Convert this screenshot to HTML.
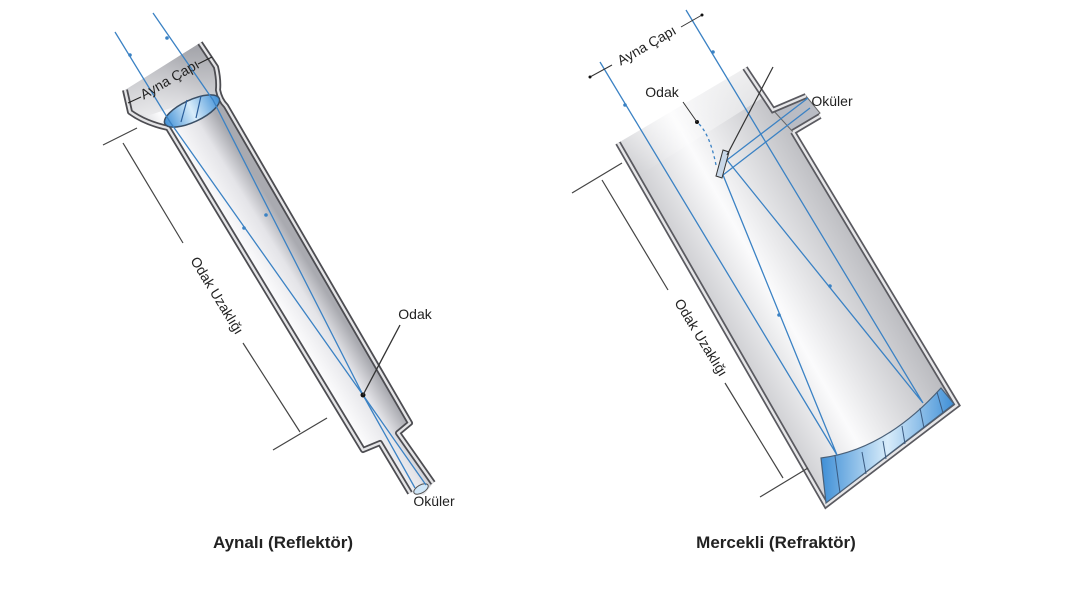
<!DOCTYPE html>
<html><head><meta charset="utf-8"><style>
body{margin:0;background:#fff;width:1066px;height:600px;overflow:hidden}
svg{display:block}
text{font-family:"Liberation Sans",sans-serif;fill:#222}
</style></head><body>
<svg width="1066" height="600" viewBox="0 0 1066 600" xmlns="http://www.w3.org/2000/svg">
<defs>
<linearGradient id="gl" gradientUnits="userSpaceOnUse" x1="160" y1="175" x2="228" y2="133">
<stop offset="0" stop-color="#c6c7cc"/><stop offset="0.4" stop-color="#fbfbfc"/><stop offset="0.75" stop-color="#e4e4e8"/><stop offset="1" stop-color="#a9aab0"/></linearGradient>
<linearGradient id="ghead" x1="0" y1="0" x2="0" y2="1"><stop offset="0" stop-color="#9fa0a6"/><stop offset="1" stop-color="#e8e8ea"/></linearGradient>
<linearGradient id="gr" gradientUnits="userSpaceOnUse" x1="640" y1="300" x2="870" y2="170">
<stop offset="0" stop-color="#a3a4aa"/><stop offset="0.45" stop-color="#fbfbfc"/><stop offset="1" stop-color="#a0a1a7"/></linearGradient>
<linearGradient id="gtop" x1="0" y1="0" x2="0" y2="1"><stop offset="0" stop-color="#fff" stop-opacity="1"/><stop offset="1" stop-color="#fff" stop-opacity="0"/></linearGradient>
<linearGradient id="gb" x1="0" y1="0" x2="1" y2="0"><stop offset="0" stop-color="#3f8fd6"/><stop offset="0.5" stop-color="#d8ecfa"/><stop offset="1" stop-color="#3f8fd6"/></linearGradient>
</defs>

<!-- LEFT TELESCOPE -->
<polygon points="125,90 200,43 217,67 218,90 226,105 410,423 398,433 433,483 424,495 410,493 380,443 363,450 170,130 130,113" fill="url(#gl)"/>
<polygon points="125,90 200,43 217,67 218,90 214,100 180,105 150,115 130,113" fill="url(#ghead)" opacity="0.85"/>
<g fill="none" stroke-linejoin="round">
<path d="M200,43 L216,67 Q219,80 218,90 Q220,100 226,106 L410,423 L398,433 L433,483" stroke="#4d4d52" stroke-width="6"/>
<path d="M200,43 L216,67 Q219,80 218,90 Q220,100 226,106 L410,423 L398,433 L433,483" stroke="#e4e4e6" stroke-width="2.4"/>
<path d="M125,90 L130,112 Q145,123 168,128 L363,450 L380,443 L410,493" stroke="#4d4d52" stroke-width="6"/>
<path d="M125,90 L130,112 Q145,123 168,128 L363,450 L380,443 L410,493" stroke="#e4e4e6" stroke-width="2.4"/>
</g>
<ellipse cx="192" cy="111" rx="30" ry="11" transform="rotate(-25 192 111)" fill="url(#gb)" stroke="#3a4f66" stroke-width="1.5"/>
<line x1="181" y1="122" x2="187" y2="100" stroke="#2a5d99" stroke-width="1.2"/>
<line x1="196" y1="118" x2="201" y2="96" stroke="#2a5d99" stroke-width="1.2"/>
<ellipse cx="421" cy="489" rx="8" ry="4" transform="rotate(-30 421 489)" fill="#cfe6f8" stroke="#555" stroke-width="1"/>
<g stroke="#3b82c4" stroke-width="1.3" fill="none">
<polyline points="115,32 170,122 363,395 415,488"/>
<polyline points="153,13 213,100 363,395 426,485"/>
</g>
<g fill="#3b82c4"><circle cx="130" cy="55" r="1.8"/><circle cx="167" cy="38" r="1.8"/><circle cx="244" cy="228" r="1.8"/><circle cx="266" cy="215" r="1.8"/></g>
<circle cx="363" cy="395" r="2.5" fill="#111"/>
<line x1="400" y1="325" x2="363" y2="395" stroke="#333" stroke-width="1.3"/>
<!-- dimension ayna -->
<g stroke="#222" stroke-width="1"><line x1="128" y1="103" x2="141" y2="97"/><line x1="198" y1="64" x2="212" y2="57"/></g>
<text x="170" y="84" font-size="14" text-anchor="middle" transform="rotate(-30 170 80)">Ayna Çapı</text>
<!-- odak uzakligi left -->
<g stroke="#444" stroke-width="1.2">
<line x1="103" y1="145" x2="137" y2="128"/><line x1="273" y1="450" x2="327" y2="418"/>
<line x1="123" y1="143" x2="183" y2="243"/><line x1="243" y1="343" x2="300" y2="432"/>
</g>
<text x="213" y="298" font-size="14" text-anchor="middle" transform="rotate(58.5 213 298)">Odak Uzaklığı</text>
<text x="415" y="319" font-size="14" text-anchor="middle">Odak</text>
<text x="434" y="506" font-size="14" text-anchor="middle">Oküler</text>

<!-- RIGHT TELESCOPE -->
<polygon points="618,143 745,68 773,110 793,132 957,405 826,505" fill="url(#gr)"/>
<polygon points="600,110 750,30 775,90 640,175" fill="url(#gtop)"/>
<polygon points="773,110 806,96 820,113 793,132" fill="#b9bcc4" stroke="#666" stroke-width="1"/>
<g fill="none" stroke-linejoin="miter">
<path d="M745,68 L773,110 L806,96 M793,132 L820,116 M793,132 L957,405 L826,505 L618,143" stroke="#5a5a60" stroke-width="6"/>
<path d="M745,68 L773,110 L806,96 M793,132 L820,116 M793,132 L957,405 L826,505 L618,143" stroke="#e6e6e8" stroke-width="2.5"/>
</g>
<path d="M821,458 Q885,450 941,388 L954,404 L826,503 Z" fill="url(#gb)" stroke="#4a6078" stroke-width="1.2"/>
<g stroke="#3a5a80" stroke-width="1"><line x1="835" y1="456" x2="840" y2="493"/><line x1="862" y1="452" x2="866" y2="474"/><line x1="883" y1="441" x2="886" y2="459"/><line x1="902" y1="426" x2="905" y2="444"/><line x1="920" y1="408" x2="924" y2="428"/><line x1="937" y1="392" x2="943" y2="413"/></g>
<g stroke="#3b82c4" stroke-width="1.3" fill="none">
<polyline points="600,62 837,455 723,175"/>
<polyline points="686,10 923,403 727,160"/>
<polyline points="723,175 810,108"/><polyline points="727,160 808,98"/>
</g>
<g fill="#3b82c4"><circle cx="625" cy="105" r="1.8"/><circle cx="713" cy="52" r="1.8"/><circle cx="779" cy="315" r="1.8"/><circle cx="830" cy="286" r="1.8"/></g>
<polygon points="723,150 729,152 722,178 716,176" fill="#c9d8e8" stroke="#333" stroke-width="1"/>
<line x1="727" y1="155" x2="773" y2="67" stroke="#333" stroke-width="1.2"/>
<circle cx="697" cy="122" r="2" fill="#111"/>
<line x1="683" y1="102" x2="697" y2="122" stroke="#333" stroke-width="1"/>
<path d="M699,124 Q710,135 716,165" stroke="#3b82c4" stroke-width="1.3" stroke-dasharray="3,3" fill="none"/>
<g stroke="#333" stroke-width="1"><line x1="590" y1="77" x2="612" y2="65"/><line x1="681" y1="27" x2="702" y2="15"/></g>
<g fill="#111"><circle cx="590" cy="77" r="1.5"/><circle cx="702" cy="15" r="1.5"/></g>
<text x="647" y="50" font-size="14" text-anchor="middle" transform="rotate(-30 647 46)">Ayna Çapı</text>
<text x="662" y="97" font-size="14" text-anchor="middle">Odak</text>
<text x="832" y="106" font-size="14" text-anchor="middle">Oküler</text>
<g stroke="#444" stroke-width="1.2">
<line x1="572" y1="193" x2="622" y2="163"/><line x1="760" y1="497" x2="808" y2="468"/>
<line x1="602" y1="180" x2="668" y2="290"/><line x1="725" y1="383" x2="783" y2="478"/>
</g>
<text x="697" y="340" font-size="14" text-anchor="middle" transform="rotate(58.5 697 340)">Odak Uzaklığı</text>

<text x="283" y="548" font-size="17" font-weight="bold" text-anchor="middle">Aynalı (Reflektör)</text>
<text x="776" y="548" font-size="17" font-weight="bold" text-anchor="middle">Mercekli (Refraktör)</text>
</svg>
</body></html>
